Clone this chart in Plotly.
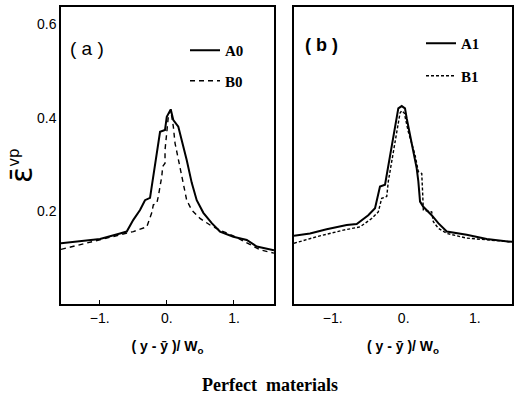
import plotly.graph_objects as go

# ---------------- data ----------------
# Panel (a)
a0_x = [-1.576, -0.995, -0.697, -0.597, -0.499, -0.399, -0.325, -0.250, -0.225, -0.176,
        -0.127, -0.101, -0.027, -0.001, 0.058, 0.097, 0.171, 0.222, 0.296, 0.371,
        0.445, 0.544, 0.669, 0.792, 0.990, 1.190, 1.339, 1.596]
a0_y = [0.132, 0.141, 0.153, 0.157, 0.182, 0.203, 0.224, 0.229, 0.253, 0.296,
        0.338, 0.370, 0.374, 0.402, 0.418, 0.395, 0.381, 0.353, 0.310, 0.261,
        0.224, 0.197, 0.175, 0.157, 0.146, 0.139, 0.125, 0.117]

b0_x = [-1.576, -0.995, -0.499, -0.299, -0.225, -0.201, -0.150, -0.127, -0.076, -0.061,
        -0.027, -0.027, -0.001, 0.022, 0.058, 0.097, 0.122, 0.171, 0.246, 0.296,
        0.371, 0.494, 0.643, 0.792, 0.990, 1.190, 1.388, 1.596]
b0_y = [0.119, 0.139, 0.157, 0.167, 0.197, 0.214, 0.217, 0.232, 0.274, 0.296,
        0.303, 0.331, 0.374, 0.402, 0.417, 0.381, 0.346, 0.310, 0.260, 0.224,
        0.203, 0.185, 0.171, 0.160, 0.148, 0.133, 0.118, 0.111]

# Panel (b)
a1_x = [-1.545, -1.320, -1.085, -0.803, -0.662, -0.499, -0.404, -0.358, -0.334, -0.263,
        -0.239, -0.193, -0.146, -0.099, -0.076, -0.028, 0.018, 0.042, 0.089, 0.135,
        0.183, 0.206, 0.230, 0.276, 0.394, 0.487, 0.606, 0.887, 1.169, 1.525]
a1_y = [0.148, 0.153, 0.162, 0.171, 0.173, 0.192, 0.207, 0.235, 0.253, 0.257,
        0.278, 0.321, 0.363, 0.406, 0.420, 0.425, 0.420, 0.399, 0.363, 0.335,
        0.292, 0.264, 0.221, 0.210, 0.192, 0.175, 0.157, 0.150, 0.141, 0.135]

b1_x = [-1.545, -1.225, -0.851, -0.615, -0.451, -0.358, -0.310, -0.239, -0.217, -0.169,
        -0.123, -0.076, -0.052, -0.028, 0.008, 0.065, 0.113, 0.159, 0.206, 0.254,
        0.268, 0.276, 0.394, 0.417, 0.487, 0.606, 0.887, 1.169, 1.525]
b1_y = [0.132, 0.146, 0.160, 0.167, 0.185, 0.199, 0.228, 0.232, 0.264, 0.306,
        0.349, 0.392, 0.410, 0.415, 0.410, 0.370, 0.342, 0.321, 0.285, 0.281,
        0.235, 0.203, 0.199, 0.178, 0.164, 0.153, 0.143, 0.139, 0.135]

x_tickvals = [-1, 0, 1]
x_ticktext = ["\u22121.", "0.", "1."]
y_tickvals = [0.2, 0.4, 0.6]
y_ticktext = ["0.2", "0.4", "0.6"]

# ---------------- figure ----------------
W, H = 521, 402
fig = go.Figure()

fig.add_trace(go.Scatter(x=a0_x, y=a0_y, mode="lines", name="<b>A0</b>",
                         line=dict(color="black", width=2),
                         xaxis="x", yaxis="y", legend="legend", legendgroup="A0"))
fig.add_trace(go.Scatter(x=b0_x, y=b0_y, mode="lines", name="<b>B0</b>",
                         line=dict(color="black", width=1.4, dash="5px,4px"),
                         xaxis="x", yaxis="y", legend="legend", legendgroup="B0"))
fig.add_trace(go.Scatter(x=a1_x, y=a1_y, mode="lines", name="<b>A1</b>",
                         line=dict(color="black", width=2),
                         xaxis="x2", yaxis="y2", legend="legend2", legendgroup="A1"))
fig.add_trace(go.Scatter(x=b1_x, y=b1_y, mode="lines", name="<b>B1</b>",
                         line=dict(color="black", width=1.4, dash="3px,2px"),
                         xaxis="x2", yaxis="y2", legend="legend2", legendgroup="B1"))

sans = "Liberation Sans Narrow, Liberation Sans, Arial"
tick_font = dict(family=sans, size=14, color="black")
ax_common = dict(showline=True, mirror=True, linecolor="black", linewidth=1.5,
                 showgrid=False, zeroline=False)

ydom = [1 - 304 / H, 1 - 7 / H]
yrange = [0.0023, 0.6366]

legend_font = dict(family="Liberation Serif, Times New Roman, serif", size=15, color="black")
xtitle = dict(text="<b>( y - ȳ )/ W<sub>o</sub></b>", standoff=17,
              font=dict(family=sans, size=14, color="black"))

fig.update_layout(
    width=W, height=H,
    margin=dict(l=0, r=0, t=0, b=0),
    paper_bgcolor="white", plot_bgcolor="white",
    showlegend=True,
    xaxis=dict(domain=[61 / W, 274 / W], range=[-1.576, 1.596], anchor="y",
               tickvals=x_tickvals, ticktext=x_ticktext, ticks="inside", ticklen=4,
               tickcolor="black", tickfont=tick_font, title=xtitle, **ax_common),
    yaxis=dict(domain=ydom, range=yrange, anchor="x",
               tickvals=y_tickvals, ticktext=y_ticktext, ticks="", tickfont=tick_font,
               **ax_common),
    xaxis2=dict(domain=[294 / W, 512 / W], range=[-1.545, 1.525], anchor="y2",
                tickvals=x_tickvals, ticktext=x_ticktext, ticks="", tickfont=tick_font,
                title=xtitle, **ax_common),
    yaxis2=dict(domain=ydom, range=yrange, anchor="x2", showticklabels=False,
                ticks="", **ax_common),
    legend=dict(x=185 / W, y=1 - 34 / H, xanchor="left", yanchor="top",
                bgcolor="rgba(0,0,0,0)", font=legend_font, tracegroupgap=8,
                traceorder="grouped"),
    legend2=dict(x=421 / W, y=1 - 27 / H, xanchor="left", yanchor="top",
                 bgcolor="rgba(0,0,0,0)", font=legend_font, tracegroupgap=10,
                 traceorder="grouped"),
    annotations=[
        dict(text="( a )", x=87 / W, y=1 - 48 / H, xref="paper", yref="paper",
             xanchor="center", yanchor="middle", showarrow=False,
             font=dict(family=sans, size=19, color="black")),
        dict(text="<b>( b )</b>", x=321 / W, y=1 - 45 / H, xref="paper", yref="paper",
             xanchor="center", yanchor="middle", showarrow=False,
             font=dict(family=sans, size=18, color="black")),
        dict(text="ε\u0304<sup><span style='font-size:15px'>vp</span></sup>",
             x=21 / W, y=1 - 166 / H, xref="paper", yref="paper",
             xanchor="center", yanchor="middle", textangle=-90, showarrow=False,
             font=dict(family="DejaVu Sans, Liberation Sans", size=30, color="black")),
        dict(text="<b>Perfect  materials</b>", x=270 / W, y=1 - 385 / H, xref="paper",
             yref="paper", xanchor="center", yanchor="middle", showarrow=False,
             font=dict(family="Liberation Serif, Times New Roman, serif", size=18,
                       color="black")),
    ],
)

fig.write_html("out.html")
